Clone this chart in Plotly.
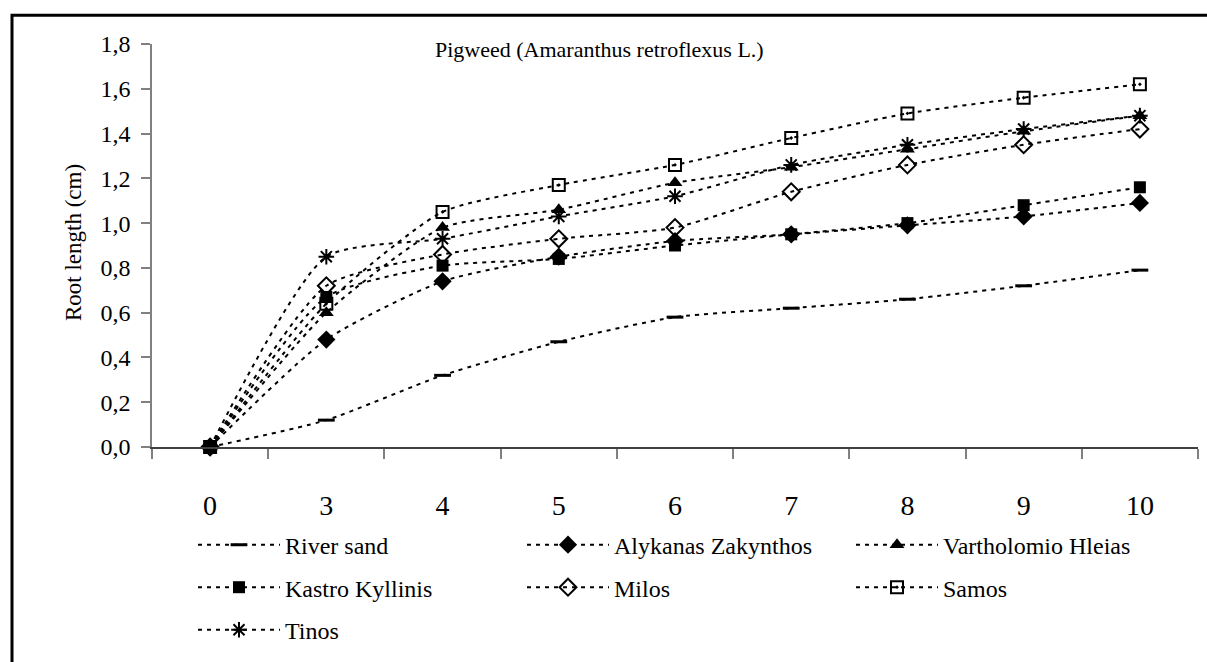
import plotly.graph_objects as go

# Days after sowing (category axis) and mean root length (cm) per soil
days = ["0", "3", "4", "5", "6", "7", "8", "9", "10"]

river_sand = [0.00, 0.12, 0.32, 0.47, 0.58, 0.62, 0.66, 0.72, 0.79]
alykanas_zakynthos = [0.00, 0.48, 0.74, 0.85, 0.92, 0.95, 0.99, 1.03, 1.09]
vartholomio_hleias = [0.00, 0.60, 0.98, 1.06, 1.18, 1.25, 1.33, 1.41, 1.48]
kastro_kyllinis = [0.00, 0.67, 0.81, 0.84, 0.90, 0.95, 1.00, 1.08, 1.16]
milos = [0.00, 0.72, 0.86, 0.93, 0.98, 1.14, 1.26, 1.35, 1.42]
samos = [0.00, 0.64, 1.05, 1.17, 1.26, 1.38, 1.49, 1.56, 1.62]
tinos = [0.00, 0.85, 0.93, 1.03, 1.12, 1.26, 1.35, 1.42, 1.48]

y_ticks = [0.0, 0.2, 0.4, 0.6, 0.8, 1.0, 1.2, 1.4, 1.6, 1.8]
y_tick_text = [f"{v:.1f}".replace(".", ",") for v in y_ticks]

SERIF = "Times New Roman, Liberation Serif, serif"
W, H = 1207, 662
L, R, T, B = 152, 9, 44, 211
PW, PH = W - L - R, H - T - B


def px_x(x):
    return (x - L) / PW


def px_y(y):
    return (H - B - y) / PH


series = [
    ("River sand", river_sand, dict(symbol="line-ew-open", size=12, line=dict(width=3, color="black")), "legend"),
    ("Alykanas Zakynthos", alykanas_zakynthos, dict(symbol="diamond", size=14, color="black"), "legend"),
    ("Vartholomio Hleias", vartholomio_hleias, dict(symbol="triangle-up", size=13, color="black"), "legend"),
    ("Kastro Kyllinis", kastro_kyllinis, dict(symbol="square", size=12, color="black"), "legend2"),
    ("Milos", milos, dict(symbol="diamond-open", size=13, color="black", line=dict(width=2, color="black")), "legend2"),
    ("Samos", samos, dict(symbol="square-open-dot", size=12, color="black", line=dict(width=2, color="black")), "legend2"),
    ("Tinos", tinos, dict(symbol="asterisk-open", size=13, color="black", line=dict(width=2, color="black")), "legend3"),
]

fig = go.Figure()
for name, vals, marker, leg in series:
    fig.add_trace(go.Scatter(
        x=days, y=vals, name=name, mode="lines+markers",
        line=dict(color="black", width=2, dash="4px,5px", shape="spline", smoothing=0.6),
        marker=marker, legend=leg, cliponaxis=False,
    ))


def legend_row(y_px):
    return dict(
        orientation="h", xanchor="left", yanchor="middle",
        x=px_x(193), y=px_y(y_px),
        font=dict(family=SERIF, size=24, color="black"),
        itemwidth=82, entrywidth=232, entrywidthmode="pixels",
        bgcolor="rgba(0,0,0,0)", borderwidth=0,
    )


fig.update_layout(
    template="none",
    width=W, height=H,
    margin=dict(l=L, r=R, t=T, b=B, pad=0),
    paper_bgcolor="white", plot_bgcolor="white",
    font=dict(family=SERIF, color="black"),
    showlegend=True,
    legend=legend_row(550),
    legend2=legend_row(593),
    legend3=legend_row(636),
    xaxis=dict(
        type="category", range=[-0.5, 8.5], showgrid=False, zeroline=False,
        showline=True, linecolor="#404040", linewidth=1.5,
        ticks="outside", tickson="boundaries", ticklen=10, tickcolor="#808080", tickwidth=1.5,
        tickfont=dict(family=SERIF, size=28, color="black"), ticklabelstandoff=33,
    ),
    yaxis=dict(
        range=[0, 1.8], showgrid=False, zeroline=False,
        showline=True, linecolor="#808080", linewidth=1.5,
        ticks="outside", ticklen=9, tickcolor="#808080", tickwidth=1.5,
        tickvals=y_ticks, ticktext=y_tick_text,
        tickfont=dict(family=SERIF, size=24, color="black"), ticklabelstandoff=6,
    ),
    annotations=[
        dict(text="Pigweed (Amaranthus retroflexus L.)", xref="paper", yref="paper",
             x=px_x(433), y=px_y(50), xanchor="left", yanchor="middle", showarrow=False,
             font=dict(family=SERIF, size=22, color="black")),
        dict(text="Root length (cm)", xref="paper", yref="paper", textangle=-90,
             x=px_x(73), y=px_y(245), xanchor="center", yanchor="middle", showarrow=False,
             font=dict(family=SERIF, size=23, color="black")),
    ],
    shapes=[
        dict(type="rect", xref="paper", yref="paper", layer="below",
             x0=px_x(12), x1=px_x(1230), y0=px_y(690), y1=px_y(15),
             line=dict(color="black", width=3), fillcolor="rgba(0,0,0,0)"),
    ],
)
for key in ("legend", "legend2", "legend3"):
    fig.layout[key].font.family = SERIF

fig.write_html("out.html")
